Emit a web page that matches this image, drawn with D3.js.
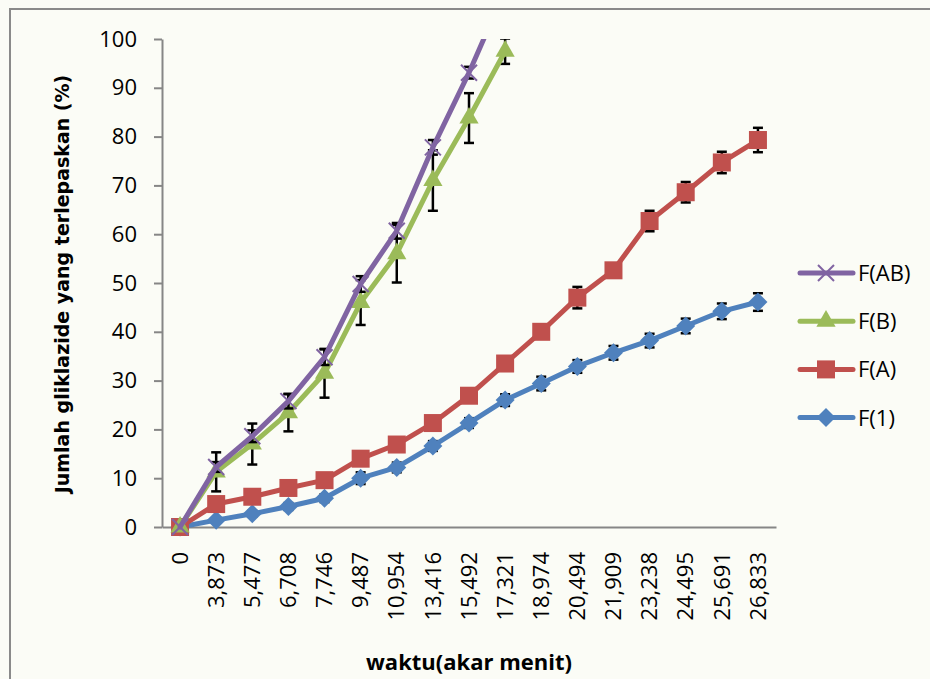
<!DOCTYPE html>
<html>
<head>
<meta charset="utf-8">
<script src="https://cdn.jsdelivr.net/npm/d3@7"></script>
<style>
  html, body { margin: 0; padding: 0; background: #fbfcf6; }
  svg { display: block; }
</style>
</head>
<body>
<svg id="chart" width="930" height="679"></svg>
<script>
// Time points (square root of minutes), as printed on the category axis
const categories = ["0", "3,873", "5,477", "6,708", "7,746", "9,487", "10,954", "13,416",
  "15,492", "17,321", "18,974", "20,494", "21,909", "23,238", "24,495", "25,691", "26,833"];

// Cumulative gliclazide released (%) and standard deviations per formula
const f1Values  = [0, 1.4, 2.7, 4.2, 5.9, 10.0, 12.2, 16.6, 21.3, 26.0, 29.4, 32.9, 35.7, 38.2, 41.2, 44.2, 46.1];
const f1Errors  = [0, 0.5, 0.6, 0.7, 0.8, 1.2, 1.0, 1.0, 1.0, 1.2, 1.4, 1.3, 1.4, 1.4, 1.5, 1.6, 1.8];
const fAValues  = [0, 4.7, 6.2, 8.0, 9.6, 14.0, 16.9, 21.3, 26.9, 33.5, 40.0, 47.0, 52.6, 62.7, 68.6, 74.7, 79.3];
const fAErrors  = [0, 0.5, 0.5, 0.6, 0.6, 0.8, 0.8, 0.9, 1.0, 1.1, 1.2, 2.2, 1.2, 2.1, 2.1, 2.2, 2.5];
const fBValues  = [0, 11.3, 17.0, 23.4, 31.5, 46.0, 56.0, 71.0, 83.8, 97.5];
const fBErrors  = [0, 4.0, 4.2, 3.8, 5.0, 4.6, 5.9, 6.2, 5.1, 2.6];
const fABValues = [0, 12.3, 18.6, 25.8, 34.8, 49.8, 60.7, 77.8, 93.1, 110];
const fABErrors = [0, 1.0, 1.2, 1.5, 1.6, 1.6, 1.6, 1.5, 1.2, 1.5];

const yTicks = [0, 10, 20, 30, 40, 50, 60, 70, 80, 90, 100];

// Drawing order: F(1) first, F(AB) on top; legend lists them in reverse
const series = [
  { name: "F(1)",  values: f1Values,  errors: f1Errors,  color: "#4F81BD", marker: "diamond" },
  { name: "F(A)",  values: fAValues,  errors: fAErrors,  color: "#C0504D", marker: "square" },
  { name: "F(B)",  values: fBValues,  errors: fBErrors,  color: "#9BBB59", marker: "triangle" },
  { name: "F(AB)", values: fABValues, errors: fABErrors, color: "#8064A2", marker: "x" }
];

const svg = d3.select("#chart");
const font = "'Open Sans', 'Liberation Sans', sans-serif";

// Outer frame
svg.append("rect")
  .attr("x", 10).attr("y", 9).attr("width", 940).attr("height", 700)
  .attr("fill", "none").attr("stroke", "#8a8a8a").attr("stroke-width", 2);

const plot = { left: 162, right: 776, top: 39, bottom: 527 };

const x = d3.scaleBand().domain(categories).range([plot.left, plot.right]).padding(0);
const y = d3.scaleLinear().domain([0, 100]).range([plot.bottom, plot.top]);
const cx = c => x(c) + x.bandwidth() / 2;

// Y axis
const yAxis = svg.append("g")
  .attr("transform", `translate(${plot.left},0)`)
  .call(d3.axisLeft(y).tickValues(yTicks).tickSize(8).tickSizeOuter(0).tickPadding(17));
yAxis.select(".domain").attr("stroke", "#868686").attr("stroke-width", 2);
yAxis.selectAll(".tick line").attr("stroke", "#868686").attr("stroke-width", 2);
yAxis.selectAll(".tick text")
  .attr("fill", "#000").style("font-family", font).style("font-size", "22px");

// X axis (categories, rotated labels)
const xAxis = svg.append("g")
  .attr("transform", `translate(0,${plot.bottom})`)
  .call(d3.axisBottom(x).tickSize(0).tickSizeOuter(0));
xAxis.select(".domain").attr("stroke", "#868686").attr("stroke-width", 2);
xAxis.selectAll(".tick text")
  .attr("fill", "#000").style("font-family", font).style("font-size", "22px")
  .attr("text-anchor", "end")
  .attr("dy", "0.35em")
  .attr("transform", "translate(0,25) rotate(-90)")
  .attr("y", 0).attr("x", 0);

// Axis titles
svg.append("text")
  .attr("transform", `translate(69,284) rotate(-90)`)
  .attr("text-anchor", "middle")
  .style("font-family", "'DejaVu Sans', Verdana, sans-serif")
  .style("font-weight", "bold").style("font-size", "19px")
  .text("Jumlah gliklazide yang terlepaskan (%)");

svg.append("text")
  .attr("x", 469).attr("y", 670)
  .attr("text-anchor", "middle")
  .style("font-family", font)
  .style("font-weight", "bold").style("font-size", "22px")
  .text("waktu(akar menit)");

// Marker shapes
function drawMarker(g, type, color) {
  if (type === "square") {
    g.append("rect").attr("x", -9).attr("y", -9).attr("width", 18).attr("height", 18)
      .attr("fill", color);
  } else if (type === "diamond") {
    g.append("path").attr("d", "M0,-9.5L9.5,0L0,9.5L-9.5,0Z").attr("fill", color);
  } else if (type === "triangle") {
    g.append("path").attr("d", d3.symbol(d3.symbolTriangle, 160)()).attr("fill", color);
  } else if (type === "x") {
    g.append("path").attr("d", "M-8,-8L8,8M-8,8L8,-8")
      .attr("stroke", color).attr("stroke-width", 2).attr("fill", "none");
  }
}

// Plot area clip
svg.append("clipPath").attr("id", "plotClip")
  .append("rect")
  .attr("x", plot.left - 12).attr("y", plot.top)
  .attr("width", plot.right - plot.left + 24).attr("height", plot.bottom - plot.top + 14);

const layer = svg.append("g").attr("clip-path", "url(#plotClip)");

const line = d3.line().x(d => cx(d.c)).y(d => y(d.v));

series.forEach(s => {
  const pts = s.values.map((v, i) => ({ c: categories[i], v: v, e: s.errors[i] }));
  const g = layer.append("g");

  // Error bars
  const eb = g.append("g").attr("stroke", "#000").attr("stroke-width", 2.5);
  pts.filter(p => p.e > 0).forEach(p => {
    const px = cx(p.c);
    eb.append("line").attr("x1", px).attr("x2", px).attr("y1", y(p.v - p.e)).attr("y2", y(p.v + p.e));
    eb.append("line").attr("x1", px - 5).attr("x2", px + 5).attr("y1", y(p.v - p.e)).attr("y2", y(p.v - p.e));
    eb.append("line").attr("x1", px - 5).attr("x2", px + 5).attr("y1", y(p.v + p.e)).attr("y2", y(p.v + p.e));
  });

  g.append("path").datum(pts).attr("d", line)
    .attr("fill", "none").attr("stroke", s.color).attr("stroke-width", 5)
    .attr("stroke-linejoin", "round").attr("stroke-linecap", "round");

  pts.forEach(p => {
    const m = g.append("g").attr("transform", `translate(${cx(p.c)},${y(p.v)})`);
    drawMarker(m, s.marker, s.color);
  });
});

// Legend
const legend = svg.append("g");
series.slice().reverse().forEach((s, i) => {
  const ly = 273 + i * 48.2;
  const item = legend.append("g").attr("transform", `translate(0,${ly})`);
  item.append("line").attr("x1", 800).attr("x2", 853).attr("y1", 0).attr("y2", 0)
    .attr("stroke", s.color).attr("stroke-width", 5).attr("stroke-linecap", "round");
  const m = item.append("g").attr("transform", "translate(826,0)");
  drawMarker(m, s.marker, s.color);
  item.append("text").attr("x", 858).attr("y", 0).attr("dy", "0.36em")
    .style("font-family", font).style("font-size", "22px").attr("fill", "#000")
    .text(s.name);
});
</script>
</body>
</html>
